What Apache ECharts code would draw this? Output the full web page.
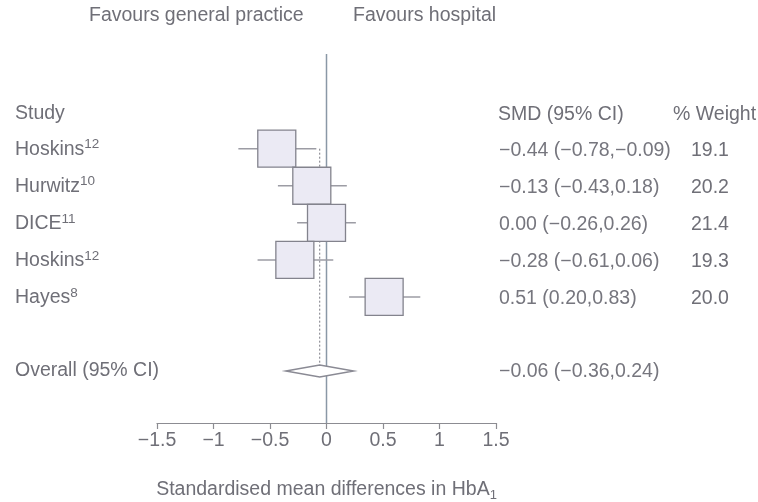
<!DOCTYPE html>
<html><head><meta charset="utf-8">
<script src="https://cdn.jsdelivr.net/npm/echarts@6/dist/echarts.min.js"></script>
<style>html,body{margin:0;padding:0;background:#fff}#c{width:758px;height:502px}</style>
</head><body><div id="c"></div>
<script>
// ---- data ----
var studies = ['Hoskins', 'Hurwitz', 'DICE', 'Hoskins', 'Hayes'];
var refs = ['12', '10', '11', '12', '8'];
var smd = [-0.44, -0.13, 0.00, -0.28, 0.51];
var ciLow = [-0.78, -0.43, -0.26, -0.61, 0.20];
var ciHigh = [-0.09, 0.18, 0.26, 0.06, 0.83];
var weights = ['19.1', '20.2', '21.4', '19.3', '20.0'];
var smdText = ['\u22120.44 (\u22120.78,\u22120.09)', '\u22120.13 (\u22120.43,0.18)', '0.00 (\u22120.26,0.26)', '\u22120.28 (\u22120.61,0.06)', '0.51 (0.20,0.83)'];
var overall = { label: 'Overall (95% CI)', smd: -0.06, low: -0.36, high: 0.24, text: '\u22120.06 (\u22120.36,0.24)' };
var xTicks = [-1.5, -1, -0.5, 0, 0.5, 1, 1.5];
var rows = [0, 1, 2, 3, 4];
var overallRow = 6;
var headerRow = -0.95;

var FONT = '"Liberation Sans", Arial, sans-serif';
var FS = 19.5;
var TXT = '#6f6f77';
var NUM = '#76767e';

var chart = echarts.init(document.getElementById('c'));

var studyData = rows.map(function (r, i) { return [smd[i], ciLow[i], ciHigh[i], r]; });

function txt(x, y, s, color, extra) {
  var st = { x: x, y: y, text: s, fill: color || TXT, font: FS + 'px ' + FONT, verticalAlign: 'middle', align: 'left' };
  if (extra) for (var k in extra) st[k] = extra[k];
  return { type: 'text', style: st, silent: true };
}

chart.setOption({
  animation: false,
  backgroundColor: '#fff',
  grid: { left: 157, right: 262, top: 56, bottom: 79, containLabel: false, outerBoundsMode: 'none' },
  xAxis: {
    type: 'value', min: -1.5, max: 1.5, interval: 0.5,
    splitLine: { show: false },
    axisLine: { show: true, onZero: false, lineStyle: { color: '#8c8c92', width: 1.2 } },
    axisTick: { show: true, inside: false, length: 6, lineStyle: { color: '#8c8c92', width: 1.2 } },
    axisLabel: {
      color: TXT, fontSize: FS, fontFamily: FONT, margin: 8,
      formatter: function (v) { return v < 0 ? '\u2212' + (-v) : String(v); }
    },
    name: '{n|Standardised mean differences in HbA}{s|1}',
    nameLocation: 'middle', nameGap: 55,
    nameTextStyle: {
      rich: {
        n: { fontSize: FS, fontFamily: FONT, color: TXT, lineHeight: 24 },
        s: { fontSize: 13, fontFamily: FONT, color: TXT, lineHeight: 14, verticalAlign: 'bottom' }
      }
    }
  },
  yAxis: { type: 'value', min: -2.5, max: 7.4, inverse: true, show: false },
  graphic: [
    { type: 'text', left: 89, top: 6, style: { text: 'Favours general practice', fill: TXT, font: FS + 'px ' + FONT } },
    { type: 'text', left: 353, top: 6, style: { text: 'Favours hospital', fill: TXT, font: FS + 'px ' + FONT } }
  ],
  series: [
    // reference line at zero and overall estimate (dotted) + diamond
    {
      type: 'custom', data: [[overall.smd, overall.low, overall.high, overallRow]], silent: true, z: 2,
      renderItem: function (params, api) {
        var top0 = api.coord([0, -2.5]), bot0 = api.coord([0, 7.4]);
        var c = api.coord([api.value(0), overallRow]);
        var l = api.coord([api.value(1), overallRow]);
        var r = api.coord([api.value(2), overallRow]);
        var d0 = api.coord([api.value(0), rows[0]]);
        var h = 6;
        return {
          type: 'group', children: [
            { type: 'line', shape: { x1: top0[0], y1: top0[1] - 2, x2: bot0[0], y2: bot0[1] }, style: { stroke: '#8a98a6', lineWidth: 1.5 } },
            { type: 'line', shape: { x1: c[0], y1: d0[1], x2: c[0], y2: c[1] - h }, style: { stroke: '#7a7a82', lineWidth: 1, lineDash: [2, 2] } },
            { type: 'polygon', shape: { points: [[l[0], c[1]], [c[0], c[1] - h], [r[0], c[1]], [c[0], c[1] + h]] }, style: { fill: '#fff', stroke: '#8a8a94', lineWidth: 1.5 } }
          ]
        };
      }
    },
    // study boxes and confidence intervals
    {
      type: 'custom', data: studyData, silent: true, z: 3,
      renderItem: function (params, api) {
        var y = api.value(3);
        var c = api.coord([api.value(0), y]);
        var l = api.coord([api.value(1), y]);
        var r = api.coord([api.value(2), y]);
        var w = 38, hgt = 37;
        return {
          type: 'group', children: [
            { type: 'line', shape: { x1: l[0], y1: c[1], x2: r[0], y2: c[1] }, style: { stroke: '#9c9ca4', lineWidth: 1.5 } },
            { type: 'rect', shape: { x: c[0] - w / 2, y: c[1] - hgt / 2, width: w, height: hgt }, style: { fill: '#ebeaf4', stroke: '#83838d', lineWidth: 1.3 } }
          ]
        };
      }
    },
    // text columns
    {
      type: 'custom', data: rows.map(function (r) { return [0, r]; }), silent: true, z: 4,
      renderItem: function (params, api) {
        var i = params.dataIndex;
        var p = api.coord([0, api.value(1)]);
        var children = [
          {
            type: 'text', silent: true,
            style: {
              x: 15, y: p[1] + 1, verticalAlign: 'middle', align: 'left',
              text: '{n|' + studies[i] + '}{s|' + refs[i] + '}',
              rich: {
                n: { fontSize: FS, fontFamily: FONT, fill: TXT, lineHeight: 24 },
                s: { fontSize: 13.5, fontFamily: FONT, fill: TXT, lineHeight: 15, verticalAlign: 'top' }
              }
            }
          },
          txt(499, p[1] + 2, smdText[i], NUM),
          txt(691, p[1] + 2, weights[i], TXT)
        ];
        if (i === 0) {
          var hp = api.coord([0, headerRow]);
          children.push(txt(15, hp[1], 'Study', TXT));
          children.push(txt(498, hp[1] + 1, 'SMD (95% CI)', TXT));
          children.push(txt(673, hp[1] + 1, '% Weight', TXT));
          var op = api.coord([0, overallRow]);
          children.push(txt(15, op[1], overall.label, TXT));
          children.push(txt(499, op[1] + 1, overall.text, NUM));
        }
        return { type: 'group', children: children };
      }
    }
  ]
});
</script></body></html>
